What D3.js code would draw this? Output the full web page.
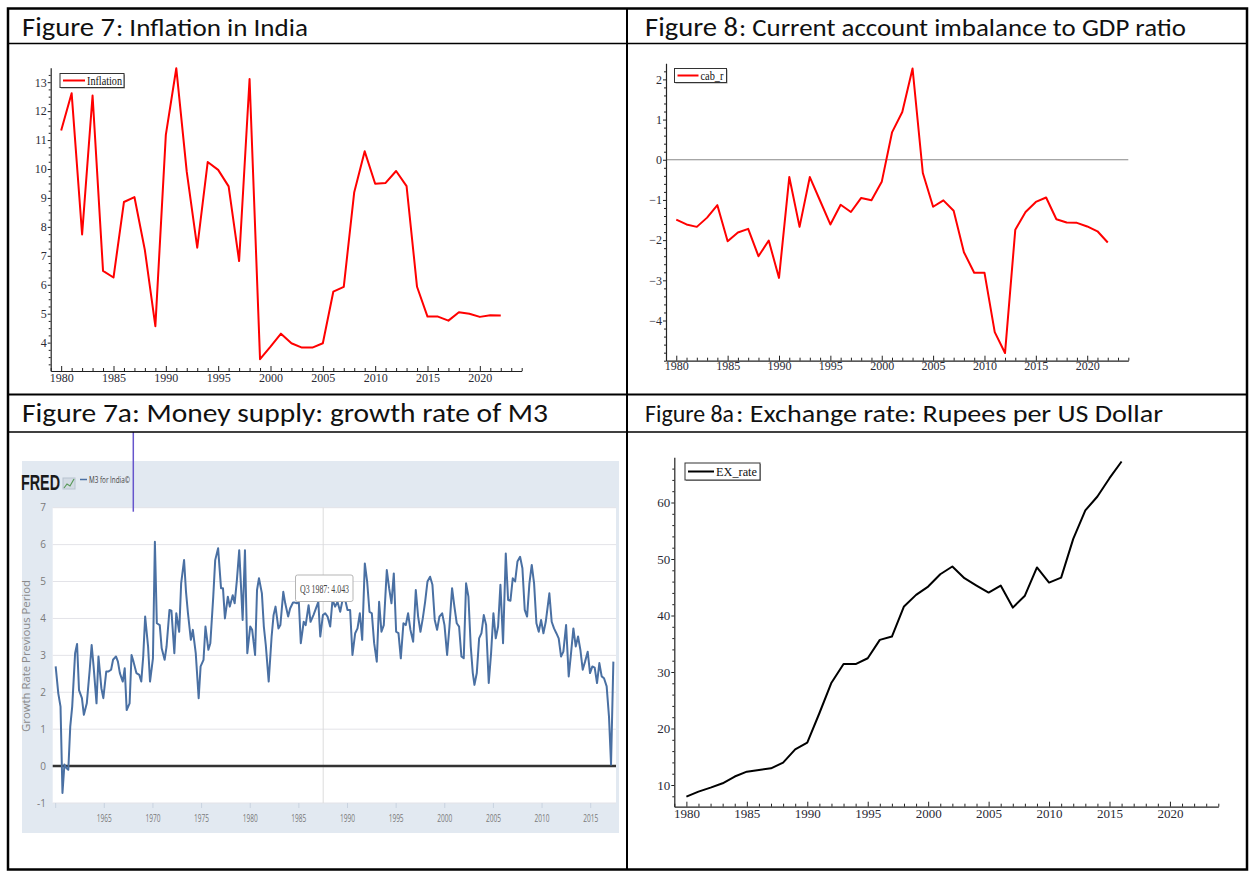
<!DOCTYPE html>
<html><head><meta charset="utf-8">
<script src="https://cdn.jsdelivr.net/npm/d3@7"></script>
<style>body{margin:0;background:#fff}svg{display:block}</style>
</head><body>
<svg id="c" width="1255" height="871"></svg>
<script>
// ---------------- DATA ----------------
const years = d3.range(1980, 2023);
const inflation = [11.33,12.62,7.74,12.54,6.48,6.25,8.86,9.03,7.19,4.57,
  11.18,13.48,9.90,7.28,10.24,9.97,9.40,6.82,13.11,3.43,
  3.86,4.31,3.98,3.83,3.83,3.98,5.76,5.93,9.20,10.61,
  9.49,9.52,9.93,9.41,5.93,4.90,4.90,4.76,5.05,5.00,
  4.89,4.95,4.94];
const cabR = [-1.49,-1.61,-1.67,-1.44,-1.13,-2.03,-1.81,-1.72,-2.40,-2.01,
  -2.94,-0.43,-1.67,-0.43,-1.02,-1.61,-1.12,-1.30,-0.95,-1.01,
  -0.55,0.68,1.19,2.27,-0.33,-1.17,-1.01,-1.27,-2.30,-2.81,
  -2.81,-4.29,-4.81,-1.74,-1.30,-1.05,-0.94,-1.48,-1.56,-1.57,
  -1.66,-1.78,-2.06];
const exYears = d3.range(1980, 2017);
const exRate = [7.93,8.82,9.53,10.30,11.50,12.36,12.66,12.95,13.96,16.30,
  17.50,22.70,28.10,31.43,31.40,32.43,35.68,36.27,41.60,43.65,
  45.12,47.30,48.67,46.60,45.30,44.06,45.30,41.40,43.50,48.50,
  45.83,46.70,53.57,58.60,61.06,64.30,67.26];
const fredT = [1960.0,1960.27,1960.5,1960.7,1960.9,1961.1,1961.3,1961.5,1961.7,1962.0,
  1962.2,1962.4,1962.7,1962.9,1963.2,1963.5,1963.7,1963.9,1964.2,1964.4,
  1964.7,1964.9,1965.2,1965.4,1965.7,1965.9,1966.2,1966.4,1966.6,1966.9,
  1967.1,1967.3,1967.6,1967.8,1968.0,1968.3,1968.6,1968.8,1969.0,1969.2,
  1969.5,1969.7,1970.0,1970.2,1970.4,1970.7,1970.9,1971.2,1971.4,1971.7,
  1971.9,1972.2,1972.4,1972.7,1972.9,1973.2,1973.4,1973.6,1973.9,1974.1,
  1974.4,1974.7,1974.9,1975.2,1975.4,1975.7,1975.9,1976.2,1976.4,1976.7,
  1977.0,1977.2,1977.4,1977.7,1977.9,1978.2,1978.4,1978.63,1978.87,1979.22,
  1979.46,1979.7,1980.0,1980.2,1980.5,1980.7,1980.9,1981.2,1981.4,1981.6,
  1981.9,1982.2,1982.4,1982.6,1982.9,1983.1,1983.4,1983.6,1983.9,1984.1,
  1984.4,1984.6,1984.8,1985.0,1985.2,1985.5,1985.7,1986.0,1986.2,1986.5,
  1986.7,1987.0,1987.2,1987.47,1987.71,1987.95,1988.22,1988.46,1988.73,1988.97,
  1989.25,1989.49,1989.73,1990.0,1990.27,1990.51,1990.79,1991.03,1991.27,1991.51,
  1991.78,1992.02,1992.26,1992.5,1992.74,1993.01,1993.25,1993.49,1993.73,1994.04,
  1994.28,1994.52,1994.76,1995.0,1995.24,1995.48,1995.75,1995.99,1996.23,1996.47,
  1996.75,1997.02,1997.26,1997.5,1997.74,1997.98,1998.22,1998.49,1998.73,1998.97,
  1999.21,1999.45,1999.73,1999.97,2000.24,2000.48,2000.75,2000.99,2001.23,2001.47,
  2001.71,2001.95,2002.19,2002.43,2002.67,2002.88,2003.05,2003.29,2003.53,2003.77,
  2004.01,2004.25,2004.52,2004.76,2005.0,2005.24,2005.48,2005.72,2005.99,2006.27,
  2006.51,2006.75,2006.99,2007.23,2007.47,2007.74,2007.98,2008.22,2008.46,2008.7,
  2008.94,2009.18,2009.42,2009.66,2009.9,2010.14,2010.38,2010.75,2010.99,2011.23,
  2011.47,2011.71,2011.95,2012.19,2012.47,2012.74,2012.98,2013.22,2013.46,2013.7,
  2013.94,2014.18,2014.42,2014.69,2014.93,2015.17,2015.41,2015.65,2015.89,2016.13,
  2016.37,2016.64,2016.88,2017.09,2017.33];
const fredV = [2.70,1.97,1.61,-0.73,0.04,-0.05,-0.10,1.07,1.61,3.06,
  3.31,2.06,1.84,1.39,1.70,2.61,3.28,2.70,1.70,2.97,
  2.11,1.84,2.56,2.56,2.61,2.88,2.97,2.83,2.52,2.29,
  2.65,1.52,1.70,3.01,2.83,2.52,2.47,2.29,2.97,4.05,
  3.24,2.29,2.92,6.08,3.87,3.82,3.19,2.88,3.24,4.23,
  4.21,3.06,4.14,3.64,4.95,5.58,4.72,4.14,3.42,3.69,
  3.06,1.84,2.70,2.88,3.78,3.15,3.33,4.59,5.58,5.90,
  4.82,4.82,4.00,4.59,4.32,4.63,4.41,5.04,5.85,3.96,
  5.85,3.06,3.78,3.69,3.01,4.77,5.09,4.68,3.78,3.28,
  2.29,3.51,4.09,4.32,3.73,3.82,4.72,4.41,4.05,4.27,
  4.43,4.43,4.41,4.43,3.33,3.91,3.82,4.36,3.91,4.09,
  4.23,4.45,3.51,4.09,4.14,4.05,3.78,4.50,4.32,4.45,
  4.18,4.50,4.54,4.23,4.23,3.01,3.60,3.73,4.14,3.42,
  5.49,5.00,4.18,4.14,3.33,2.83,4.45,3.64,3.82,5.31,
  4.82,4.41,5.22,3.64,3.60,2.92,3.87,3.82,4.14,3.69,
  3.37,4.77,4.05,3.64,4.00,4.45,5.00,5.13,4.91,3.96,
  3.69,4.05,4.14,3.82,3.01,3.78,4.82,4.32,3.87,3.78,
  2.97,2.92,4.95,4.59,3.24,2.52,2.20,2.52,3.46,3.60,
  4.09,3.82,2.25,3.06,4.14,3.46,3.78,4.91,3.33,5.76,
  4.50,4.48,5.09,5.00,5.54,5.67,5.36,4.23,4.05,4.95,
  5.45,4.95,3.87,3.64,3.96,3.60,3.91,4.68,3.91,3.73,
  3.60,3.46,2.97,3.10,3.82,2.43,3.06,3.73,3.24,3.51,
  3.15,2.61,2.83,3.10,2.52,2.70,2.67,2.25,2.79,2.43,
  2.38,2.16,1.34,0.04,2.83];
const xMajorTicks = [1980,1985,1990,1995,2000,2005,2010,2015,2020];
const inflTicks = [4,5,6,7,8,9,10,11,12,13];
const cabTicks = [-4,-3,-2,-1,0,1,2];
const exTicks = [10,20,30,40,50,60];
const fredYTicks = [-1,0,1,2,3,4,5,6,7];
const fredXTicks = [1965,1970,1975,1980,1985,1990,1995,2000,2005,2010,2015];
const titles = [
  ["Figure 7", ": Inflation in India"],
  ["Figure 8", ": Current account imbalance to GDP ratio"],
  ["Figure 7a: Money supply: growth rate of M3", ""],
  ["Figure 8a", ": Exchange rate: Rupees per US Dollar"]
];
const tooltipText = "Q3 1987: 4.043";

// ---------------- DRAW ----------------
const svg = d3.select('#c');
svg.append('rect').attr('width',1255).attr('height',871).attr('fill','#fff');
const TFONT = "Carlito, Calibri, 'Open Sans', 'Noto Sans', sans-serif";
const SERIF = "'Liberation Serif', 'DejaVu Serif', serif";

function fitText(g, txt, x, y, size, width) {
  const t = g.append('text').attr('x', x).attr('y', y).attr('font-family', TFONT)
    .attr('font-size', size).attr('fill', '#111').text(txt);
  if (width) t.attr('textLength', width).attr('lengthAdjust', 'spacingAndGlyphs');
  return t;
}
// Titles
fitText(svg, titles[0][0], 22, 36, 26.5, 93);
fitText(svg, titles[0][1], 116, 36, 23.5, 192);
fitText(svg, titles[1][0], 645, 36, 26.5, 93);
fitText(svg, titles[1][1], 739, 36, 23.5, 447);
fitText(svg, titles[2][0], 22, 422, 27, 526);
fitText(svg, titles[3][0], 645, 422, 25.5, 89);
fitText(svg, titles[3][1], 736, 422, 23.5, 427);

// --- Oxmetrics-like panels ---
function oxPanel(cfg) {
  const g = svg.append('g');
  const x = d3.scaleLinear().domain([1979, 2024]).range(cfg.xr);
  const y = d3.scaleLinear().domain(cfg.yd).range(cfg.yr);
  const minorX = d3.range(1979, 2025).filter(v => v % 5 !== 0);
  const styleAx = s => {
    s.attr('font-family', null).attr('font-size', null);
    s.selectAll('.domain').attr('stroke', '#222').attr('stroke-width', 1.2);
    s.selectAll('.tick line').attr('stroke', '#222');
    s.selectAll('text').style('font-family', SERIF).style('font-size', cfg.fs + 'px').attr('fill', '#2a2a35');
  };
  if (cfg.zero) {
    g.append('line').attr('x1', x.range()[0]).attr('x2', x.range()[1])
      .attr('y1', y(0)).attr('y2', y(0)).attr('stroke', '#888').attr('stroke-width', 1);
  }
  const yMinor = d3.range(cfg.yd[0], cfg.yd[1], cfg.minorStep)
    .map(v => Math.round(v / cfg.minorStep) * cfg.minorStep)
    .filter(v => v >= cfg.yd[0] && v <= cfg.yd[1] && !cfg.yTicks.includes(+v.toFixed(6)));
  g.append('g').attr('transform', `translate(${x.range()[0]},0)`)
    .call(d3.axisLeft(y).tickValues(yMinor).tickSize(2).tickSizeOuter(0).tickFormat(''))
    .call(styleAx).call(s => s.select('.domain').remove());
  g.append('g').attr('transform', `translate(${x.range()[0]},0)`)
    .call(d3.axisLeft(y).tickValues(cfg.yTicks).tickSize(3).tickPadding(1).tickSizeOuter(0))
    .call(styleAx);
  g.append('g').attr('transform', `translate(0,${y.range()[0]})`)
    .call(d3.axisBottom(x).tickValues(minorX).tickSize(-3).tickSizeOuter(0).tickFormat(''))
    .call(styleAx).call(s => s.select('.domain').remove());
  g.append('g').attr('transform', `translate(0,${y.range()[0]})`)
    .call(d3.axisBottom(x).tickValues(xMajorTicks).tickSize(-5).tickPadding(cfg.xpad).tickSizeOuter(0).tickFormat(d3.format('d')))
    .call(styleAx);
  const line = d3.line().x(d => x(d[0])).y(d => y(d[1]));
  g.append('path').datum(cfg.xs.map((v, i) => [v, cfg.ys[i]]))
    .attr('d', line).attr('fill', 'none').attr('stroke', cfg.color)
    .attr('stroke-width', 2).attr('stroke-linejoin', 'round');
  // legend
  const L = cfg.leg;
  g.append('rect').attr('x', L.x + 1).attr('y', L.y + 1).attr('width', L.w).attr('height', L.h)
    .attr('fill', '#999');
  g.append('rect').attr('x', L.x).attr('y', L.y).attr('width', L.w).attr('height', L.h)
    .attr('fill', '#fff').attr('stroke', '#333').attr('stroke-width', 1);
  g.append('line').attr('x1', L.x + 3).attr('x2', L.x + L.lw).attr('y1', L.y + L.h / 2).attr('y2', L.y + L.h / 2)
    .attr('stroke', cfg.color).attr('stroke-width', 2);
  g.append('text').attr('x', L.x + L.lw + 2).attr('y', L.y + L.h / 2 + cfg.lfs * 0.35)
    .attr('font-family', SERIF).attr('font-size', cfg.lfs).attr('fill', '#111')
    .attr('textLength', L.tw).attr('lengthAdjust', 'spacingAndGlyphs').text(L.label);
}

oxPanel({xr: [50.7, 521.7], yd: [3.02, 13.5], yr: [371, 67.7], yTicks: inflTicks, minorStep: 0.25,
  fs: 12, xpad: 2, xs: years, ys: inflation, color: '#ff0000',
  leg: {x: 60, y: 73.5, w: 64, h: 14, lw: 25, tw: 35, label: 'Inflation'}, lfs: 11.5});
oxPanel({xr: [666, 1128.3], yd: [-5, 2.4], yr: [360.7, 63.3], yTicks: cabTicks, minorStep: 0.2,
  fs: 12, xpad: 1, xs: years, ys: cabR, color: '#ff0000', zero: true,
  leg: {x: 674.5, y: 68.5, w: 52, h: 14, lw: 24, tw: 23, label: 'cab_r'}, lfs: 11.5});
oxPanel({xr: [674.3, 1218.3], yd: [6.16, 68], yr: [806.7, 457.3], yTicks: exTicks, minorStep: 2,
  fs: 13, xpad: 2, xs: exYears, ys: exRate, color: '#000000',
  leg: {x: 685, y: 463, w: 75, h: 17, lw: 29, tw: 41, label: 'EX_rate'}, lfs: 12.5});

// --- FRED panel ---
const fg = svg.append('g');
fg.append('rect').attr('x', 22).attr('y', 461).attr('width', 597).attr('height', 372).attr('fill', '#e2e9f1');
const fx = d3.scaleLinear().domain([1965, 2015]).range([104.3, 590.7]);
const fy = d3.scaleLinear().domain([-1, 7]).range([803, 507.7]);
const fxl = fx.invert(52.7), fxr = fx.invert(616);
fg.append('rect').attr('x', fx(fxl)).attr('y', fy(7)).attr('width', fx(fxr) - fx(fxl)).attr('height', fy(-1) - fy(7)).attr('fill', '#fff');
fg.append('g').selectAll('line').data(fredYTicks.filter(v => v !== 0)).join('line')
  .attr('x1', fx(fxl)).attr('x2', fx(fxr)).attr('y1', d => fy(d)).attr('y2', d => fy(d))
  .attr('stroke', '#e3e3e8').attr('stroke-width', 1);
fg.append('g').selectAll('line').data([1960].concat(fredXTicks)).join('line')
  .attr('x1', d => fx(d)).attr('x2', d => fx(d)).attr('y1', fy(-1)).attr('y2', fy(-1) + 5)
  .attr('stroke', '#c9d3e0').attr('stroke-width', 1);
// crosshair
fg.append('line').attr('x1', fx(1987.5)).attr('x2', fx(1987.5)).attr('y1', fy(7)).attr('y2', fy(-1))
  .attr('stroke', '#dcdcdc').attr('stroke-width', 1);
fg.append('line').attr('x1', fx(fxl)).attr('x2', fx(fxr)).attr('y1', fy(0)).attr('y2', fy(0))
  .attr('stroke', '#333').attr('stroke-width', 2.5);
fg.append('path').datum(fredT.map((t, i) => [t, fredV[i]]))
  .attr('d', d3.line().x(d => fx(d[0])).y(d => fy(d[1])))
  .attr('fill', 'none').attr('stroke', '#4a70a3').attr('stroke-width', 2).attr('stroke-linejoin', 'round');
// y labels
fg.append('g').selectAll('text').data(fredYTicks).join('text')
  .attr('x', 46).attr('y', d => fy(d) + 3.5).attr('text-anchor', 'end')
  .attr('font-family', "'Open Sans', sans-serif").attr('font-size', 10).attr('fill', '#7a7a7a').text(d => d);
// x labels
fg.append('g').selectAll('text').data(fredXTicks).join('text')
  .attr('x', d => fx(d) - 7.5).attr('y', 822)
  .attr('font-family', "'Open Sans', sans-serif").attr('font-size', 11).attr('fill', '#7a7a7a')
  .attr('textLength', 15).attr('lengthAdjust', 'spacingAndGlyphs').text(d => d);
// y title
fg.append('text').attr('transform', 'translate(30,656) rotate(-90)').attr('text-anchor', 'middle')
  .attr('font-family', "'Open Sans', sans-serif").attr('font-size', 10).attr('fill', '#8a8a8a')
  .attr('textLength', 152).attr('lengthAdjust', 'spacingAndGlyphs').text('Growth Rate Previous Period');
// header
fg.append('text').attr('x', 21).attr('y', 490).attr('font-family', "'Liberation Sans', Arial, sans-serif")
  .attr('font-weight', 'bold').attr('font-size', 22).attr('fill', '#1a1a1a')
  .attr('textLength', 39).attr('lengthAdjust', 'spacingAndGlyphs').text('FRED');
fg.append('rect').attr('x', 63).attr('y', 478).attr('width', 12).attr('height', 11).attr('fill', '#d3dbe4').attr('stroke', '#b8c4d0');
fg.append('polyline').attr('points', '64,488 67,484 70,486 74,479').attr('fill', 'none').attr('stroke', '#5a9a5a').attr('stroke-width', 1.2);
fg.append('line').attr('x1', 80).attr('x2', 87).attr('y1', 479.5).attr('y2', 479.5).attr('stroke', '#4a70a3').attr('stroke-width', 1.5);
fg.append('text').attr('x', 89).attr('y', 482.5).attr('font-family', "'Open Sans', sans-serif").attr('font-size', 9)
  .attr('fill', '#444').attr('textLength', 41).attr('lengthAdjust', 'spacingAndGlyphs').text('M3 for India©');
// tooltip
fg.append('rect').attr('x', 295.5).attr('y', 575).attr('width', 57.5).attr('height', 26.5).attr('rx', 2)
  .attr('fill', '#fff').attr('stroke', '#b5b5b5').attr('stroke-width', 1);
fg.append('text').attr('x', 300).attr('y', 592.5).attr('font-family', SERIF).attr('font-size', 12)
  .attr('fill', '#444').attr('textLength', 49).attr('lengthAdjust', 'spacingAndGlyphs').text(tooltipText);
// purple marker line
svg.append('line').attr('x1', 133.3).attr('x2', 133.3).attr('y1', 432).attr('y2', 511.7)
  .attr('stroke', '#6655cc').attr('stroke-width', 1.5);

// --- table borders ---
const tb = svg.append('g').attr('stroke', '#000').attr('fill', 'none');
tb.append('rect').attr('x', 8).attr('y', 8.5).attr('width', 1239).attr('height', 861).attr('stroke-width', 2.5);
tb.append('line').attr('x1', 627).attr('x2', 627).attr('y1', 8).attr('y2', 870).attr('stroke-width', 2);
tb.append('line').attr('x1', 8).attr('x2', 1247).attr('y1', 43.5).attr('y2', 43.5).attr('stroke-width', 1.5);
tb.append('line').attr('x1', 8).attr('x2', 1247).attr('y1', 394.5).attr('y2', 394.5).attr('stroke-width', 2);
tb.append('line').attr('x1', 8).attr('x2', 1247).attr('y1', 432).attr('y2', 432).attr('stroke-width', 1.5);
</script>
</body></html>
